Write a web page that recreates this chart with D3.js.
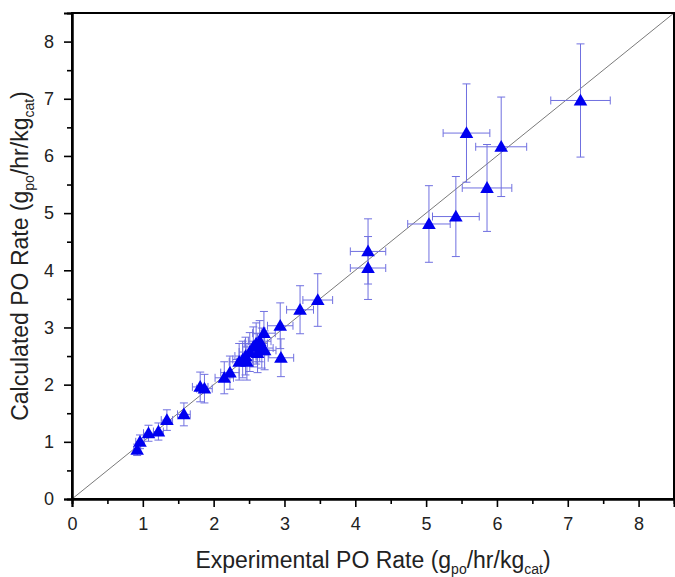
<!DOCTYPE html>
<html>
<head>
<meta charset="utf-8">
<script src="https://cdn.jsdelivr.net/npm/d3@7"></script>
<style>
  body { margin: 0; background: #fff; }
  svg { font-family: "Liberation Sans", Arial, sans-serif; }
</style>
</head>
<body>
<svg width="675" height="577"></svg>
<script>
var svg = d3.select('svg');

// experimental rate, calculated rate, and their error bars
var expRate  = [0.92, 0.96, 1.08, 1.22, 1.34, 1.58, 1.81, 1.87, 2.15, 2.23, 2.36, 2.41, 2.45, 2.47, 2.51, 2.56, 2.60, 2.65, 2.68, 2.72, 2.71, 2.62, 2.94, 2.95, 3.22, 3.47, 4.18, 4.18, 5.04, 5.42, 5.86, 5.57, 6.06, 7.18];
var calcRate = [0.86, 1.00, 1.15, 1.18, 1.38, 1.48, 1.96, 1.93, 2.12, 2.21, 2.40, 2.44, 2.50, 2.40, 2.57, 2.66, 2.72, 2.76, 2.64, 2.60, 2.90, 2.55, 3.03, 2.47, 3.31, 3.48, 4.33, 4.04, 4.81, 4.94, 5.44, 6.40, 6.16, 6.97];
var expErr   = [0.05, 0.06, 0.07, 0.07, 0.08, 0.09, 0.11, 0.11, 0.13, 0.13, 0.14, 0.14, 0.15, 0.15, 0.15, 0.15, 0.16, 0.16, 0.16, 0.16, 0.16, 0.16, 0.18, 0.18, 0.19, 0.21, 0.25, 0.25, 0.30, 0.33, 0.35, 0.33, 0.36, 0.42];
var calcErr  = [0.10, 0.12, 0.14, 0.15, 0.18, 0.20, 0.26, 0.25, 0.28, 0.29, 0.32, 0.32, 0.33, 0.32, 0.34, 0.35, 0.36, 0.36, 0.35, 0.34, 0.38, 0.34, 0.40, 0.33, 0.42, 0.46, 0.57, 0.55, 0.67, 0.70, 0.76, 0.86, 0.87, 0.99];
var majorTicks = [0, 1, 2, 3, 4, 5, 6, 7, 8];
var minorTicks = [0.5, 1.5, 2.5, 3.5, 4.5, 5.5, 6.5, 7.5];

var points = expRate.map(function(d, i) {
    return { x: d, y: calcRate[i], ex: expErr[i], ey: calcErr[i] };
});

var plotL = 72, plotR = 674, plotT = 13, plotB = 499;
var x = d3.scaleLinear().domain([0, 8.5]).range([plotL, plotR]);
var y = d3.scaleLinear().domain([0, 8.5]).range([plotB, plotT]);

// diagonal parity line
svg.append('line')
    .attr('x1', x(0)).attr('y1', y(0)).attr('x2', x(8.5)).attr('y2', y(8.5))
    .attr('stroke', '#7a7a7a').attr('stroke-width', 1);

// error bars
var errColor = '#7070e0';
var cap = 4;
var eb = svg.append('g').attr('stroke', errColor).attr('stroke-width', 1).attr('fill', 'none');
points.forEach(function(p) {
    eb.append('line').attr('x1', x(p.x)).attr('x2', x(p.x)).attr('y1', y(p.y - p.ey)).attr('y2', y(p.y + p.ey));
    eb.append('line').attr('x1', x(p.x) - cap).attr('x2', x(p.x) + cap).attr('y1', y(p.y - p.ey)).attr('y2', y(p.y - p.ey));
    eb.append('line').attr('x1', x(p.x) - cap).attr('x2', x(p.x) + cap).attr('y1', y(p.y + p.ey)).attr('y2', y(p.y + p.ey));
    eb.append('line').attr('x1', x(p.x - p.ex)).attr('x2', x(p.x + p.ex)).attr('y1', y(p.y)).attr('y2', y(p.y));
    eb.append('line').attr('x1', x(p.x - p.ex)).attr('x2', x(p.x - p.ex)).attr('y1', y(p.y) - cap).attr('y2', y(p.y) + cap);
    eb.append('line').attr('x1', x(p.x + p.ex)).attr('x2', x(p.x + p.ex)).attr('y1', y(p.y) - cap).attr('y2', y(p.y) + cap);
});

// triangles
var tri = d3.symbol().type(d3.symbolTriangle).size(80);
svg.append('g').selectAll('path')
    .data(points)
    .enter().append('path')
    .attr('d', tri)
    .attr('transform', function(d) { return 'translate(' + x(d.x) + ',' + (y(d.y) + 1) + ')'; })
    .attr('fill', '#0000f0');

// frame
svg.append('rect')
    .attr('x', plotL).attr('y', plotT).attr('width', plotR - plotL).attr('height', plotB - plotT)
    .attr('fill', 'none').attr('stroke', '#000').attr('stroke-width', 2);

// bottom axis
var xAxis = svg.append('g').attr('transform', 'translate(0,' + plotB + ')');
xAxis.call(d3.axisBottom(x).tickValues(majorTicks).tickSize(8).tickPadding(10).tickFormat(d3.format('d')));
xAxis.append('g').call(d3.axisBottom(x).tickValues(minorTicks).tickSize(5).tickFormat(''));

// left axis
var yAxis = svg.append('g').attr('transform', 'translate(' + plotL + ',0)');
yAxis.call(d3.axisLeft(y).tickValues(majorTicks).tickSize(8).tickPadding(10).tickFormat(d3.format('d')));
yAxis.append('g').call(d3.axisLeft(y).tickValues(minorTicks).tickSize(5).tickFormat(''));

svg.selectAll('.domain').attr('stroke', '#000').attr('stroke-width', 2);
svg.selectAll('.tick line').attr('stroke', '#000').attr('stroke-width', 1.6);
svg.selectAll('.tick text').attr('font-size', 18).attr('fill', '#222')
    .attr('font-family', '"Liberation Sans", Arial, sans-serif');

// axis titles
var xt = svg.append('text')
    .attr('x', (plotL + plotR) / 2).attr('y', 568)
    .attr('text-anchor', 'middle').attr('font-size', 23).attr('fill', '#222');
xt.append('tspan').text('Experimental PO Rate (g');
xt.append('tspan').attr('font-size', 14).attr('dy', 6).text('po');
xt.append('tspan').attr('dy', -6).text('/hr/kg');
xt.append('tspan').attr('font-size', 14).attr('dy', 6).text('cat');
xt.append('tspan').attr('dy', -6).text(')');

var yt = svg.append('text')
    .attr('transform', 'translate(28,' + ((plotT + plotB) / 2) + ') rotate(-90)')
    .attr('text-anchor', 'middle').attr('font-size', 23).attr('fill', '#222');
yt.append('tspan').text('Calculated PO Rate (g');
yt.append('tspan').attr('font-size', 14).attr('dy', 6).text('po');
yt.append('tspan').attr('dy', -6).text('/hr/kg');
yt.append('tspan').attr('font-size', 14).attr('dy', 6).text('cat');
yt.append('tspan').attr('dy', -6).text(')');
</script>
</body>
</html>
